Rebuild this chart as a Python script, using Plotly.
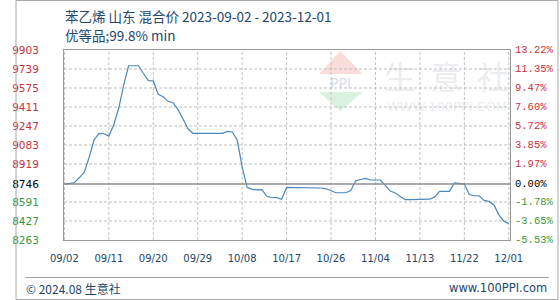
import pandas as pd
import plotly.graph_objects as go

# ---- data ----
start_date = "2023-09-02"
prices = [
    8746, 8750, 8757, 8800, 8847, 8975, 9126, 9184, 9180, 9160,
    9258, 9400, 9600, 9767, 9767, 9767, 9700, 9638, 9636, 9520,
    9500, 9460, 9448, 9390, 9310, 9225, 9184, 9184, 9184, 9184,
    9184, 9184, 9184, 9201, 9195, 9126, 8895, 8717, 8700, 8695,
    8698, 8640, 8630, 8628, 8614, 8717, 8717, 8717, 8717, 8717,
    8717, 8711, 8712, 8705, 8688, 8671, 8671, 8671, 8690, 8774,
    8785, 8795, 8781, 8781, 8781, 8735, 8685, 8669, 8640, 8611,
    8611, 8611, 8615, 8613, 8615, 8635, 8683, 8683, 8683, 8755,
    8750, 8746, 8655, 8645, 8645, 8605, 8596, 8565, 8480, 8425,
    8404,
]
base_price = 8746
y_tick_vals = [9903, 9739, 9575, 9411, 9247, 9083, 8919, 8746, 8591, 8427, 8263]
pct_labels = ["13.22%", "11.35%", "9.47%", "7.60%", "5.72%", "3.85%", "1.97%",
              "0.00%", "-1.78%", "-3.65%", "-5.53%"]
x_tick_dates = ["2023-09-02", "2023-09-11", "2023-09-20", "2023-09-29", "2023-10-08",
                "2023-10-17", "2023-10-26", "2023-11-04", "2023-11-13", "2023-11-22",
                "2023-12-01"]
x_tick_text = ["09/02", "09/11", "09/20", "09/29", "10/08", "10/17", "10/26",
               "11/04", "11/13", "11/22", "12/01"]
title_line1 = "苯乙烯 山东 混合价 2023-09-02 - 2023-12-01"
title_line2 = "优等品;99.8% min"

dates = pd.date_range(start_date, periods=len(prices), freq="D")

RED = "#c8323c"
GREEN = "#3c963c"
TXT = "#23476b"


def color_for(v):
    if v > base_price:
        return RED
    if v < base_price:
        return GREEN
    return "#000000"


left_text = [f'<span style="color:{color_for(v)}">{v}</span>' for v in y_tick_vals]

# plot area in pixels
L, R, T, B = 50, 510, 50, 240
W, H = 560, 300


def px(x):
    return (x - L) / (R - L)


def py(y):
    return (B - y) / (B - T)


yrange = [min(y_tick_vals), max(y_tick_vals)]
xr = [pd.Timestamp(start_date) - pd.Timedelta(hours=2),
      pd.Timestamp(x_tick_dates[-1]) + pd.Timedelta(hours=6)]

fig = go.Figure()
# horizontal dashed grid lines drawn as line traces at the tick values
for v in y_tick_vals:
    if v in (base_price, yrange[0], yrange[1]):
        continue
    fig.add_trace(go.Scatter(x=[xr[0], xr[1]], y=[v, v], mode="lines",
                             line=dict(color="#bdbdbd", width=1, dash="3px,2px"),
                             hoverinfo="skip", showlegend=False))
fig.add_trace(go.Scatter(x=dates, y=prices, mode="lines",
                         line=dict(color="#4a88bd", width=1.2),
                         hoverinfo="skip", showlegend=False))

fig.update_layout(
    width=W, height=H,
    margin=dict(l=L, r=W - R, t=T, b=H - B),
    paper_bgcolor="white", plot_bgcolor="white",
    showlegend=False,
    xaxis=dict(range=xr, type="date", tickvals=x_tick_dates, ticktext=x_tick_text,
               showgrid=False,
               showline=True, mirror=True, linecolor="#9a9a9a", linewidth=1,
               ticks="", ticklabelstandoff=9,
               tickfont=dict(family="DejaVu Sans", size=10, color=TXT),
               zeroline=False),
    yaxis=dict(range=yrange, tickvals=y_tick_vals, ticktext=left_text,
               showgrid=False,
               showline=True, mirror=True, linecolor="#9a9a9a", linewidth=1,
               ticks="", ticklabelstandoff=22,
               tickfont=dict(family="DejaVu Sans", size=10.5),
               zeroline=False),
)

GRID = dict(color="#c0c0c0", width=1, dash="3px,2px")
shapes = []
# vertical dashed grid lines at every date tick
for d in x_tick_dates:
    shapes.append(dict(type="line", xref="x", yref="y", x0=d, x1=d,
                       y0=yrange[0], y1=yrange[1], layer="below", line=GRID))
# zero (base) line
shapes.append(dict(type="line", xref="paper", yref="y", x0=0, x1=1,
                   y0=base_price, y1=base_price,
                   line=dict(color="#8c8c8c", width=1.5)))
# footer separator line
shapes.append(dict(type="line", xref="paper", yref="paper",
                   x0=px(10), x1=px(550), y0=py(277.5), y1=py(277.5),
                   line=dict(color="#a0a0a0", width=1)))
# outer frame
shapes.append(dict(type="rect", xref="paper", yref="paper",
                   x0=px(0.5), x1=px(559.5), y0=py(299.5), y1=py(0.5),
                   line=dict(color="#a8a8a8", width=1)))
# watermark logo: red triangle up, green triangle down
shapes.append(dict(type="path", xref="paper", yref="paper", layer="below",
                   path=f"M {px(335)} {py(51)} L {px(313)} {py(74)} L {px(358)} {py(74)} Z",
                   fillcolor="rgba(235,120,110,0.25)", line=dict(width=0)))
shapes.append(dict(type="path", xref="paper", yref="paper", layer="below",
                   path=f"M {px(313)} {py(92)} L {px(358)} {py(92)} L {px(335)} {py(111)} Z",
                   fillcolor="rgba(110,200,130,0.25)", line=dict(width=0)))
fig.update_layout(shapes=shapes)

ann = []
# right-hand percentage axis labels (change vs. base price)
for v, t in zip(y_tick_vals, pct_labels):
    ann.append(dict(text=t, xref="paper", yref="y", x=px(513), y=v,
                    xanchor="left", yanchor="middle", showarrow=False,
                    font=dict(family="Liberation Mono", size=10.5, color=color_for(v))))
ann.append(dict(text=title_line1, xref="paper", yref="paper", x=px(49), y=py(16),
                xanchor="left", yanchor="middle", showarrow=False,
                font=dict(family="Noto Sans CJK SC", size=13.5, color=TXT)))
ann.append(dict(text=title_line2, xref="paper", yref="paper", x=px(49), y=py(35),
                xanchor="left", yanchor="middle", showarrow=False,
                font=dict(family="Noto Sans CJK SC", size=13.5, color=TXT)))
ann.append(dict(text="© 2024.08 生意社", xref="paper", yref="paper", x=px(9), y=py(288),
                xanchor="left", yanchor="middle", showarrow=False,
                font=dict(family="Noto Sans CJK SC", size=12, color=TXT)))
ann.append(dict(text="www.100PPI.com", xref="paper", yref="paper", x=px(550), y=py(288),
                xanchor="right", yanchor="middle", showarrow=False,
                font=dict(family="DejaVu Sans", size=11.5, color=TXT)))
# watermark texts
ann.append(dict(text="PPI", xref="paper", yref="paper", x=px(335.5), y=py(83),
                xanchor="center", yanchor="middle", showarrow=False,
                font=dict(family="DejaVu Sans", size=14, color="rgba(150,165,190,0.4)")))
ann.append(dict(text="生  意  社", xref="paper", yref="paper", x=px(445), y=py(75),
                xanchor="center", yanchor="middle", showarrow=False,
                font=dict(family="Noto Sans CJK SC", size=32, color="rgba(185,190,200,0.3)")))
ann.append(dict(text="WWW.100PPI.COM", xref="paper", yref="paper", x=px(445), y=py(106),
                xanchor="center", yanchor="middle", showarrow=False,
                font=dict(family="DejaVu Sans", size=13, color="rgba(185,190,200,0.3)")))
fig.update_layout(annotations=ann)

fig.write_html("out.html")
